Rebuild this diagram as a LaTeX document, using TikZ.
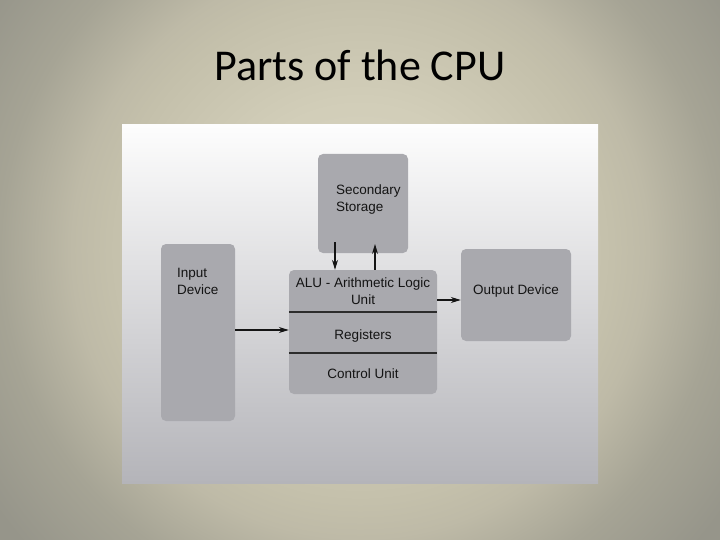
\documentclass[tikz,border=0pt]{standalone}
\usepackage{fontspec}
\setmainfont{Liberation Sans}
\newfontfamily\titlefont{Carlito}
\usepackage{xcolor}
\usetikzlibrary{arrows.meta}

\definecolor{bga}{HTML}{D9D5C1}
\definecolor{bgb}{HTML}{D2CEB9}
\definecolor{bgc}{HTML}{C4C0AB}
\definecolor{bgd}{HTML}{BEBAA7}
\definecolor{bge}{HTML}{A6A495}
\definecolor{bgf}{HTML}{96958A}
\definecolor{paneltop}{HTML}{FDFDFD}
\definecolor{panelbot}{HTML}{B4B4B9}
\definecolor{boxgray}{HTML}{A9A9AE}
\definecolor{ink}{HTML}{141414}

\pgfdeclareradialshading{slidebg}{\pgfpoint{0bp}{0bp}}{%
  color(0bp)=(bga); color(10bp)=(bgb); color(17.5bp)=(bgc);
  color(20bp)=(bgd); color(25bp)=(bge); color(31bp)=(bgf); color(50bp)=(bgf)}

\tikzset{
  unitbox/.style={draw=none, fill=boxgray, rounded corners=5pt, inner sep=0pt},
  lbl/.style={inner sep=0pt, text=ink, font=\fontsize{13.5}{17}\selectfont},
  arr/.style={-{Stealth[length=10pt,width=6pt]}, line width=1.1pt, draw=ink},
  divider/.style={line width=1.3pt, draw=ink!90}
}

\begin{document}
\begin{tikzpicture}[x=1pt, y=-1pt]
    \useasboundingbox (0,0) rectangle (720,540);

    % slide background
    \begin{scope}
        \clip (0,0) rectangle (720,540);
        \shade[shading=slidebg] (0,-110) rectangle (720,610);
    \end{scope}

    \node[anchor=base, inner sep=0pt, font=\titlefont\fontsize{44}{50}\selectfont] (title) at (360,81) {Parts of the CPU};

    % white panel
    \shade[top color=paneltop, bottom color=panelbot] (122,125) rectangle (598,483);

    % boxes
    \node[unitbox, minimum width=74, minimum height=177] (input) at (198,332.5) {};
    \node[unitbox, minimum width=90, minimum height=99] (store) at (363,203.5) {};
    \node[unitbox, minimum width=148, minimum height=124] (cpu) at (363,332) {};
    \node[unitbox, minimum width=110, minimum height=92] (output) at (516,295) {};

    % labels
    \node[lbl, anchor=north west, align=left] (inputtxt) at (177,268) {Input\\Device};
    \node[lbl, anchor=north west, align=left] (storetxt) at (336,185) {Secondary\\Storage};
    \node[lbl, anchor=base] (alu) at (363,287) {ALU - Arithmetic Logic};
    \node[lbl, anchor=base] (alu2) at (363,304) {Unit};
    \node[lbl, anchor=base] (regs) at (363,339) {Registers};
    \node[lbl, anchor=base] (ctrl) at (363,378) {Control Unit};
    \node[lbl, anchor=base] (outtxt) at (516,294) {Output Device};

    % dividers
    \draw[divider] (cpu.west |- 0,312) -- (cpu.east |- 0,312);
    \draw[divider] (cpu.west |- 0,353) -- (cpu.east |- 0,353);

    % connectors
    \coordinate (sdown) at (335,242);
    \coordinate (sup) at (375,244);
    \draw[arr] (input.east |- 0,330) -- (cpu.west |- 0,330);
    \draw[arr] (sdown) -- (sdown |- cpu.north);
    \draw[arr] (sup |- cpu.north) -- (sup);
    \draw[arr] (cpu.east |- 0,300) -- (output.west |- 0,300);

\end{tikzpicture}
\end{document}
